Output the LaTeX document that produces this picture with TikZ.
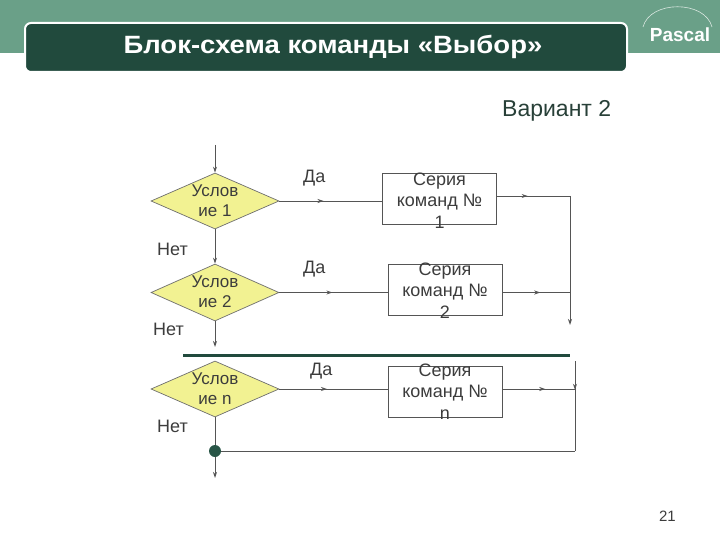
\documentclass[tikz,border=0pt]{standalone}
\usepackage{fontspec}
\setmainfont{Liberation Sans}
\usetikzlibrary{shapes.geometric,arrows.meta,decorations.markings,calc}
\definecolor{band}{RGB}{106,160,136}
\definecolor{titlebg}{RGB}{33,74,61}
\definecolor{ln}{RGB}{85,85,85}
\definecolor{dfill}{RGB}{242,242,146}
\definecolor{txt}{RGB}{60,60,60}
\definecolor{dotcol}{RGB}{40,85,70}
\definecolor{varcol}{RGB}{40,64,56}
\begin{document}
\begin{tikzpicture}[x=1pt,y=-1pt,
  conn/.style={draw=ln,line width=0.9pt},
  tip/.style={-{Stealth[length=6pt,width=4pt]}},
  midarrow/.style={postaction={decorate},decoration={markings,mark=at position #1 with {\arrow{Stealth[length=6pt,width=4pt]}}}},
  cond/.style={diamond,draw=ln!85,fill=dfill,line width=0.7pt,minimum width=128pt,minimum height=56pt,inner sep=0pt},
  series/.style={rectangle,draw=ln,fill=white,line width=0.8pt,minimum width=114pt,minimum height=51pt,inner sep=0pt},
  lbl/.style={font=\fontsize{18}{21}\selectfont,text=txt,inner sep=0pt},
  intext/.style={font=\fontsize{18}{21.5}\selectfont,text=txt,align=center,inner sep=0pt},
  condtext/.style={font=\fontsize{17}{20}\selectfont,text=txt,align=center,inner sep=0pt}]
\useasboundingbox (0,0) rectangle (720,540);
% header
\fill[band] (0,0) rectangle (720,53);
\draw[white,line width=2pt,fill=titlebg,rounded corners=6pt] (25,23) rectangle (627,72);
\node[font=\bfseries\fontsize{25}{29}\selectfont,text=white,anchor=base,inner sep=0pt,xscale=1.1] (title) at (333,54) {Блок-схема команды «Выбор»};
\coordinate (arcL) at (643,27);
\coordinate (arcR) at (712,27);
\draw[white!75!band,line width=0.6pt] (arcL) .. controls (650,0) and (705,0) .. (arcR);
\node[font=\bfseries\fontsize{19}{22}\selectfont,text=white,anchor=base,inner sep=0pt] (pascal) at (680,42) {Pascal};
\node[font=\fontsize{23}{27}\selectfont,text=varcol,anchor=base west,inner sep=0pt] (var) at (502,117) {Вариант 2};
\node[font=\fontsize{15}{18}\selectfont,text=txt,anchor=base east,inner sep=0pt] (pg) at (676,521) {21};
% conditions
\node[cond] (d1) at (215,201) {};
\node[cond,minimum height=57pt] (d2) at (215,292.5) {};
\node[cond] (dn) at (215,389) {};
\node[condtext] (t1) at (215,201) {Услов\\ие 1};
\node[condtext] (t2) at (215,291.5) {Услов\\ие 2};
\node[condtext] (tn) at (215,389) {Услов\\ие n};
% series
\node[series] (b1) at (439.5,198.5) {};
\node[series] (b2) at (445,289.5) {};
\node[series] (bn) at (445,391.5) {};
\node[intext] (s1) at (439.5,200.5) {Серия\\команд №\\1};
\node[intext] (s2) at (445,290.5) {Серия\\команд №\\2};
\node[intext] (sn) at (445,391.5) {Серия\\команд №\\n};
% labels
\node[lbl,anchor=base west] (da1) at (303,183) {Да};
\node[lbl,anchor=base west] (da2) at (303,273) {Да};
\node[lbl,anchor=base west] (da3) at (310,375) {Да};
\node[lbl,anchor=base west] (net1) at (157,255) {Нет};
\node[lbl,anchor=base west] (net2) at (153,335) {Нет};
\node[lbl,anchor=base west] (net3) at (157,432) {Нет};
% connectors
\coordinate (top) at (215,145);
\draw[conn,tip] (top) -- (d1.north);
\draw[conn,tip] (d1.south) -- (d2.north);
\coordinate (a2) at (215,347);
\draw[conn,tip] (d2.south) -- (a2);
\draw[conn,midarrow=0.43] (d1.east) -- (d1.east -| b1.west);
\coordinate (r1) at (570,196);
\coordinate (r1b) at (570,325);
\draw[conn,midarrow=0.42] ([yshift=2.5pt]b1.east) -- (r1);
\draw[conn,tip] (r1) -- (r1b);
\draw[conn,midarrow=0.49] (d2.east) -- (d2.east -| b2.west);
\draw[conn,midarrow=0.56] (b2.east |- d2.east) -- (r1 |- d2.east);
\coordinate (sepL) at (183,355);
\coordinate (sepR) at (570,355);
\draw[titlebg,line width=3pt] (sepL) -- (sepR);
\draw[conn,midarrow=0.44] (dn.east) -- (dn.east -| bn.west);
\coordinate (rn) at (575,389);
\coordinate (rt) at (575,361);
\coordinate (rb) at (575,451);
\coordinate (dotpt) at (215,451);
\coordinate (end) at (215,478);
\draw[conn,midarrow=0.59] (bn.east |- dn.east) -- (rn);
\draw[conn,midarrow=0.32] (rt) -- (rb);
\draw[conn] (rb) -- (dotpt);
\draw[conn] (dn.south) -- (dotpt);
\draw[conn,tip] (dotpt) -- (end);
\node[circle,fill=dotcol,minimum size=12pt,inner sep=0pt] (dot) at (dotpt) {};
\end{tikzpicture}
\end{document}
